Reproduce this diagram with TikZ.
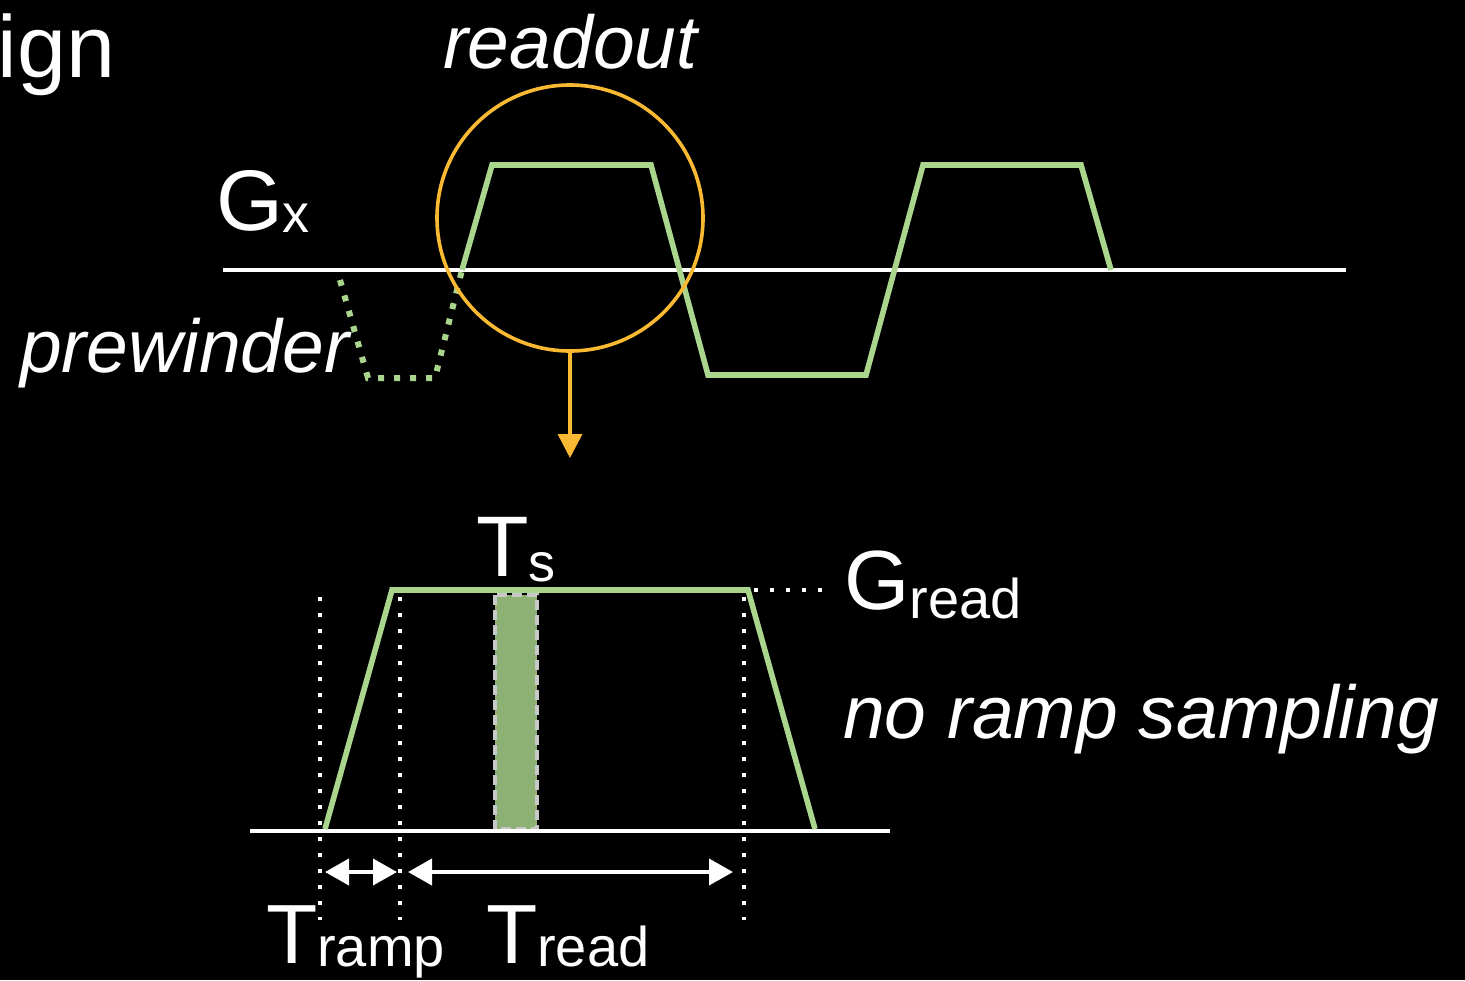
\documentclass[tikz,border=0pt]{standalone}
\usepackage{fontspec}
\setmainfont{Liberation Sans}
\usetikzlibrary{arrows.meta}
\definecolor{wave}{RGB}{169,214,140}
\definecolor{barfill}{RGB}{141,177,116}
\definecolor{ringc}{RGB}{250,185,50}
\definecolor{bargray}{RGB}{200,200,200}
\newcommand{\fsz}[1]{\fontsize{#1pt}{#1pt}\selectfont}
\begin{document}
\begin{tikzpicture}[x=0.5pt,y=-0.5pt,
  lbl/.style={inner sep=0,outer sep=0,text=white,anchor=base west},
  axisline/.style={white,line width=1.7pt},
  waveline/.style={wave,line width=2.8pt,line join=miter},
  prewave/.style={wave,line width=3pt,dash pattern=on 3pt off 5pt},
  guide/.style={white,line width=2pt,dash pattern=on 2pt off 6pt},
  dimarrow/.style={white,line width=2pt,{Triangle[length=12pt,width=13pt]}-{Triangle[length=12pt,width=13pt]}},
  samplebar/.style={bargray,line width=2pt,dash pattern=on 5pt off 2.5pt,fill=barfill}]
\fill[black] (0,0) rectangle (1465,980);
\useasboundingbox (0,0) rectangle (1465,980);

% title fragment
\node[lbl,anchor=base east] (ign) at (115,77) {\fsz{44}ign};

% top waveform
\draw[axisline] (223,270) -- (1346,270);
\draw[prewave] (340,280) -- (368,378) -- (435,378) -- (462,270);
\draw[waveline] (462,270) -- (492,165) -- (651,165) -- (708,375) -- (866,375) -- (923,165) -- (1081,165) -- (1111,270);

\node[lbl] (readout) at (443,68) {\fsz{37.5}\itshape readout};
\node[lbl] (gx) at (216,230) {\fsz{43}G\raisebox{-1pt}{\fsz{27}x}};
\node[lbl] (prewinder) at (20,372) {\fsz{37.5}\itshape prewinder};

% zoom ring and arrow
\node[draw=ringc,line width=1.8pt,circle,inner sep=0,minimum size=133pt] (ring) at (570,218) {};
\coordinate (ringtip) at (570,458);
\draw[ringc,line width=1.8pt,-{Triangle[length=12pt,width=12pt]}] (ring.south) -- (ringtip);

% bottom detail
\draw[samplebar] (495,595) rectangle (537,829);
\draw[axisline] (250,831) -- (890,831);
\draw[guide] (320,597) -- (320,920);
\draw[guide] (400,597) -- (400,920);
\draw[guide] (744,597) -- (744,920);
\draw[guide] (754,590) -- (828,590);
\draw[waveline] (325,829) -- (392,590) -- (748,590) -- (815,829);

\coordinate (rampL) at (325,872);
\coordinate (rampR) at (397,872);
\coordinate (readL) at (408,872);
\coordinate (readR) at (733,872);
\draw[dimarrow] (rampL) -- (rampR);
\draw[dimarrow] (readL) -- (readR);

\node[lbl] (ts) at (476,576) {\fsz{43}T\raisebox{-2.5pt}{\fsz{27}s}};
\node[lbl] (gread) at (844,609) {\fsz{42}G\raisebox{-4.5pt}{\fsz{28}read}};
\node[lbl] (noramp) at (843,738) {\fsz{37.5}\itshape no ramp sampling};
\node[lbl] (tramp) at (266,963) {\fsz{42}T\raisebox{-1.5pt}{\fsz{28}ramp}};
\node[lbl] (tread) at (486,963) {\fsz{42}T\raisebox{-1.5pt}{\fsz{28}read}};
\end{tikzpicture}
\end{document}
